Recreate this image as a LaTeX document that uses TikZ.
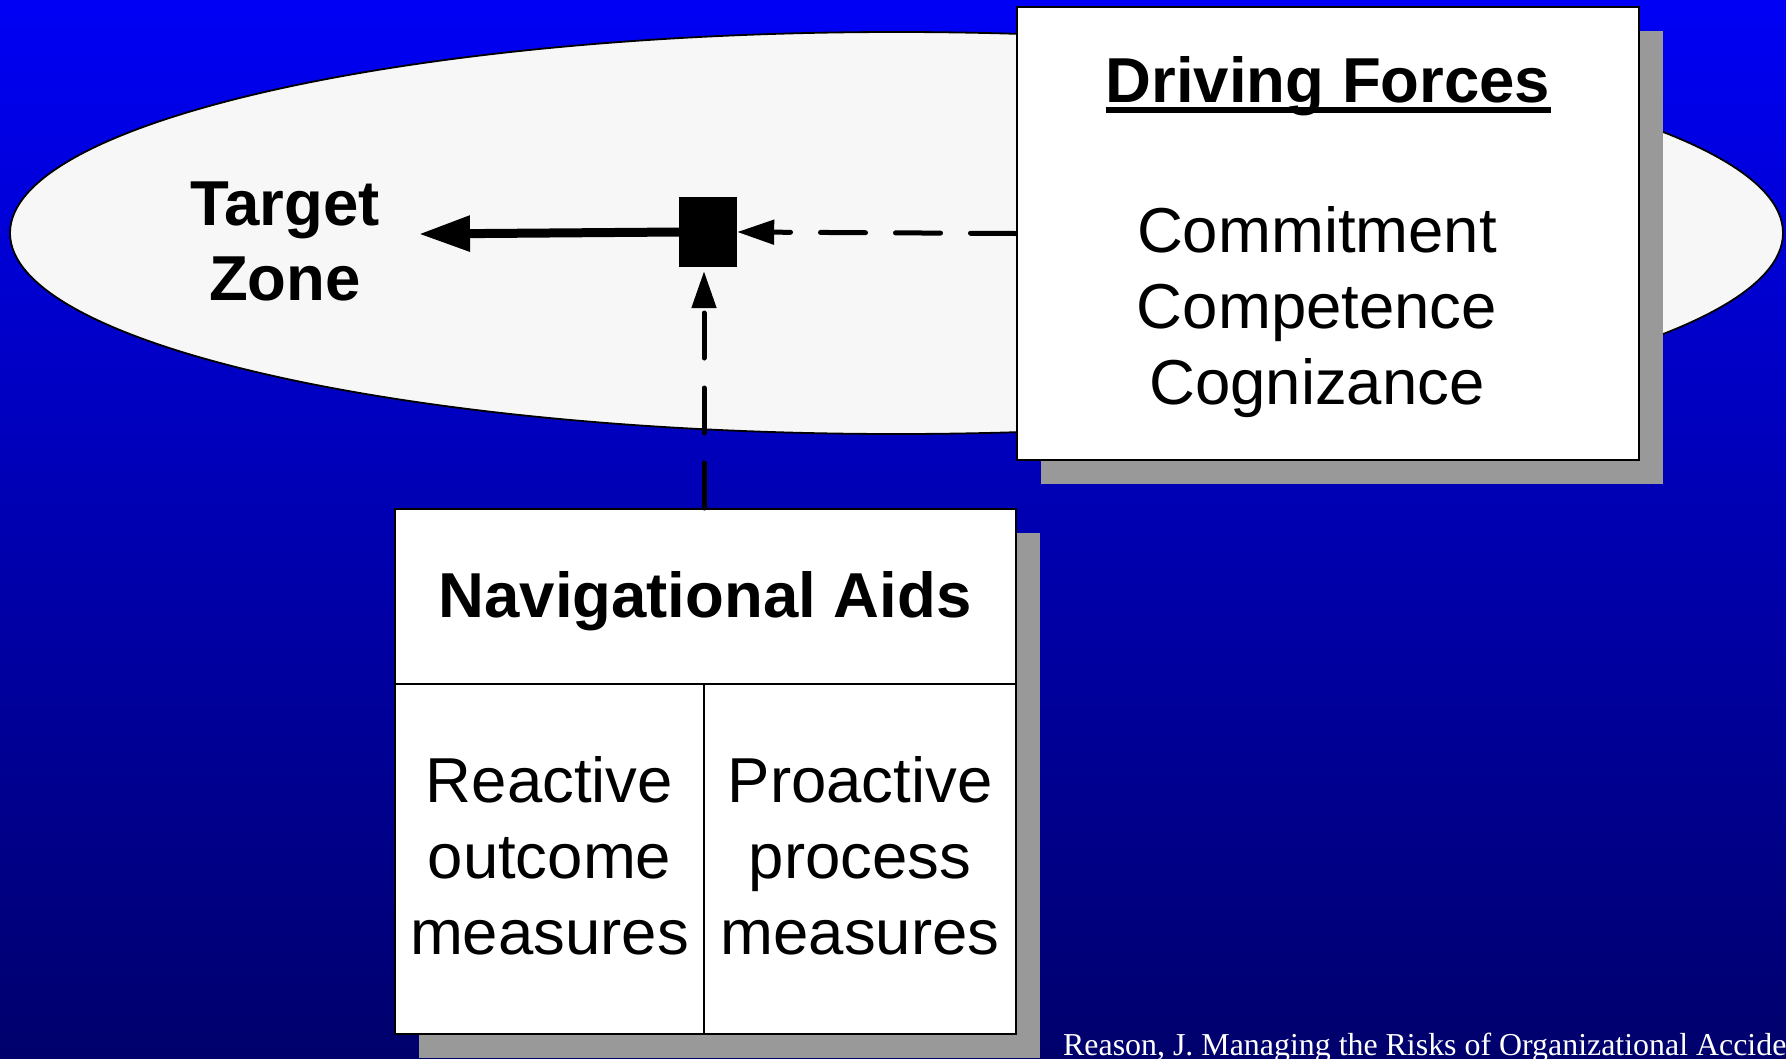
\documentclass[tikz,border=0pt]{standalone}
\usepackage{fontspec}
\setmainfont{Liberation Sans}
\newfontfamily\citefont{Liberation Serif}
\usetikzlibrary{arrows.meta,shadows}

\definecolor{skytop}{RGB}{0,0,245}
\definecolor{skybottom}{RGB}{0,0,108}
\definecolor{zonefill}{RGB}{247,247,247}
\definecolor{shadowgray}{RGB}{153,153,153}

% centred lines whose first baseline is the baseline of the whole block
\newcommand\linestack[1]{\begin{tabular}[t]{@{}c@{}}#1\end{tabular}}

\begin{document}
\begin{tikzpicture}[x=1pt,y=-1pt,
  bigreg/.style={inner sep=0pt, font=\fontsize{63.5}{76}\selectfont},
  bigbold/.style={inner sep=0pt, font=\fontsize{63.5}{76}\selectfont\bfseries},
  panel/.style={draw=black, line width=2pt, fill=white, inner sep=0pt,
    drop shadow={shadow xshift=24pt, shadow yshift=-24pt, fill=shadowgray, opacity=1}},
  solidarrow/.style={line width=9pt, -{Triangle[length=51pt,width=34pt]}},
  dasharrow/.style={line width=5pt, line cap=round, dash pattern=on 45pt off 30pt,
    -{Triangle[length=37pt,width=24pt]}}
]
\useasboundingbox (0,0) rectangle (1786,1058);
\clip (0,0) rectangle (1786,1058);

% backdrop
\shade[top color=skytop, bottom color=skybottom] (0,0) rectangle (1786,1058);

% target zone
\draw[fill=zonefill, line width=1.8pt] (896.5,233) ellipse [x radius=886.5pt, y radius=201pt];
\node[bigbold, anchor=base] (target) at (285,225) {\fontsize{63.5}{75}\selectfont\linestack{Target\\Zone}};

% driving forces panel
\node[panel, minimum width=622.5pt, minimum height=453pt] (df) at (1327.75,233.5) {};
\node[bigbold, anchor=base] (dftitle) at (1328,102) {Driving Forces};
\draw[line width=6pt] ([yshift=-8pt]dftitle.base west) -- ([yshift=-8pt]dftitle.base east);
\node[bigreg, anchor=base] (dflist) at (1317,252) {\linestack{Commitment\\Competence\\Cognizance}};

% navigational aids panel
\node[panel, minimum width=621pt, minimum height=525pt] (na) at (705.1,771.5) {};
\coordinate (split) at (0,684);
\coordinate (colsplit) at (704,684);
\draw[line width=2pt] (na.west |- split) -- (na.east |- split);
\draw[line width=2pt] (colsplit) -- (colsplit |- na.south);
\node[bigbold, anchor=base] (natitle) at (705,617) {Navigational Aids};
\node[bigreg, anchor=base] (reactive) at (549.5,802) {\linestack{Reactive\\outcome\\measures}};
\node[bigreg, anchor=base] (proactive) at (860,802) {\linestack{Proactive\\process\\measures}};

% junction and connectors
\node[fill=black, minimum width=58pt, minimum height=70pt, inner sep=0pt] (sq) at (708,232) {};
\coordinate (aim) at (419,234);
\draw[solidarrow] (sq.west) -- (aim);
\draw[dasharrow] (df.west) -- (sq.east);
\draw[dasharrow, shorten >=4pt] (na.north -| colsplit) -- (colsplit |- sq.south);

% source line
\node[anchor=base west, inner sep=0pt, text=white, font=\citefont\fontsize{31.9}{38}\selectfont] (cite)
  at (1063,1055) {Reason, J. Managing the Risks of Organizational Accide};
\end{tikzpicture}
\end{document}
